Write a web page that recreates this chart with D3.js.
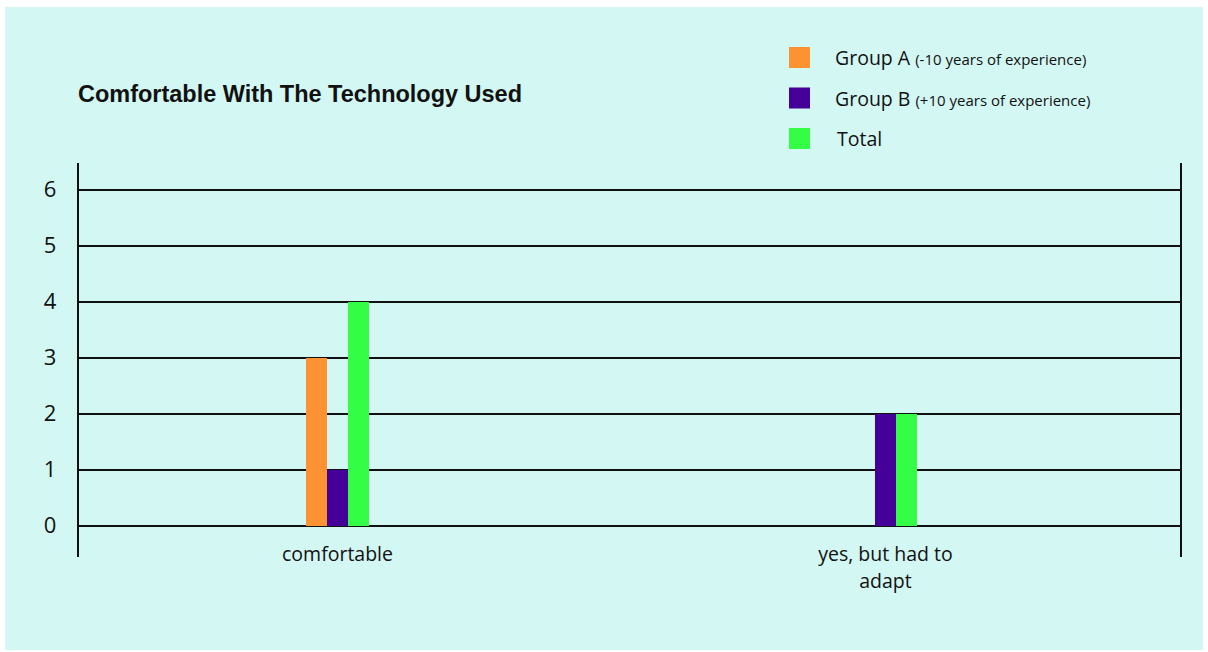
<!DOCTYPE html>
<html>
<head>
<meta charset="utf-8">
<script src="https://cdn.jsdelivr.net/npm/d3@7"></script>
<style>
  html, body { margin: 0; padding: 0; background: #ffffff; }
  svg { display: block; }
</style>
</head>
<body>
<svg id="chart" width="1208" height="652"></svg>
<script>
// Survey answers: "Comfortable with the technology used"
const categories = ["comfortable", "yes, but had to adapt"];
const seriesNames = ["Group A", "Group B", "Total"];
const seriesNotes = ["(-10 years of experience)", "(+10 years of experience)", ""];
const groupA = [3, 0];
const groupB = [1, 2];
const total = [4, 2];
const yTicks = [0, 1, 2, 3, 4, 5, 6];
const colors = ["#fc9232", "#440099", "#33fd44"];

const series = [groupA, groupB, total];

const svg = d3.select("#chart");

// panel background
svg.append("rect")
  .attr("x", 5).attr("y", 7)
  .attr("width", 1198).attr("height", 643)
  .attr("fill", "#d3f7f3");

const plotLeft = 78, plotRight = 1181;
const y = d3.scaleLinear().domain([0, 6]).range([526, 190]);
const x0 = d3.scaleBand().domain(categories).range([63.5, 1159.5]);
const x1 = d3.scaleBand().domain(seriesNames).range([-31.5, 31.5]);

// horizontal grid lines
svg.append("g")
  .selectAll("line")
  .data(yTicks)
  .join("line")
  .attr("x1", plotLeft).attr("x2", plotRight)
  .attr("y1", d => y(d)).attr("y2", d => y(d))
  .attr("stroke", "#111").attr("stroke-width", 2);

// frame verticals
[plotLeft, plotRight].forEach(xv => {
  svg.append("line")
    .attr("x1", xv).attr("x2", xv)
    .attr("y1", 163).attr("y2", 557)
    .attr("stroke", "#111").attr("stroke-width", 2);
});

// y tick labels
svg.append("g")
  .selectAll("text")
  .data(yTicks)
  .join("text")
  .attr("x", 50).attr("y", d => y(d) + 7)
  .attr("text-anchor", "middle")
  .attr("font-family", "'Open Sans', sans-serif")
  .attr("font-size", 22)
  .attr("fill", "#111")
  .text(d => d);

// bars
const groups = svg.append("g")
  .selectAll("g")
  .data(categories)
  .join("g")
  .attr("transform", d => `translate(${x0(d) + x0.bandwidth() / 2},0)`);

groups.selectAll("rect")
  .data((c, i) => seriesNames.map((s, j) => ({ s, v: series[j][i], j })))
  .join("rect")
  .filter(d => d.v > 0)
  .attr("x", d => x1(d.s))
  .attr("width", x1.bandwidth())
  .attr("y", d => y(d.v))
  .attr("height", d => y(0) - y(d.v))
  .attr("fill", d => colors[d.j]);

// category labels (wrapped)
const catLines = { "comfortable": ["comfortable"], "yes, but had to adapt": ["yes, but had to", "adapt"] };
groups.each(function (c) {
  const t = d3.select(this).append("text")
    .attr("text-anchor", "middle")
    .attr("font-family", "'Open Sans', sans-serif")
    .attr("font-size", 19.5)
    .attr("fill", "#111");
  catLines[c].forEach((ln, k) => {
    t.append("tspan").attr("x", 0).attr("y", 561 + k * 27).text(ln);
  });
});

// title
svg.append("text")
  .attr("x", 78).attr("y", 102)
  .attr("font-family", "'Liberation Sans Narrow', 'Arial Narrow', sans-serif")
  .attr("font-weight", "bold")
  .attr("font-size", 23.5)
  .attr("textLength", 444)
  .attr("fill", "#111")
  .text("Comfortable With The Technology Used");

// legend
const legend = svg.append("g")
  .selectAll("g")
  .data(seriesNames)
  .join("g")
  .attr("transform", (d, i) => `translate(789,${47 + i * 40.5})`);

legend.append("rect")
  .attr("width", 21).attr("height", 21)
  .attr("fill", (d, i) => colors[i]);

const lt = legend.append("text")
  .attr("x", (d, i) => i === 2 ? 48 : 46)
  .attr("y", 18)
  .attr("font-family", "'Open Sans', sans-serif")
  .attr("fill", "#111");
lt.append("tspan").attr("font-size", 19.5).text(d => d);
lt.append("tspan").attr("font-size", 15).attr("dx", 5).text((d, i) => seriesNotes[i]);
</script>
</body>
</html>
